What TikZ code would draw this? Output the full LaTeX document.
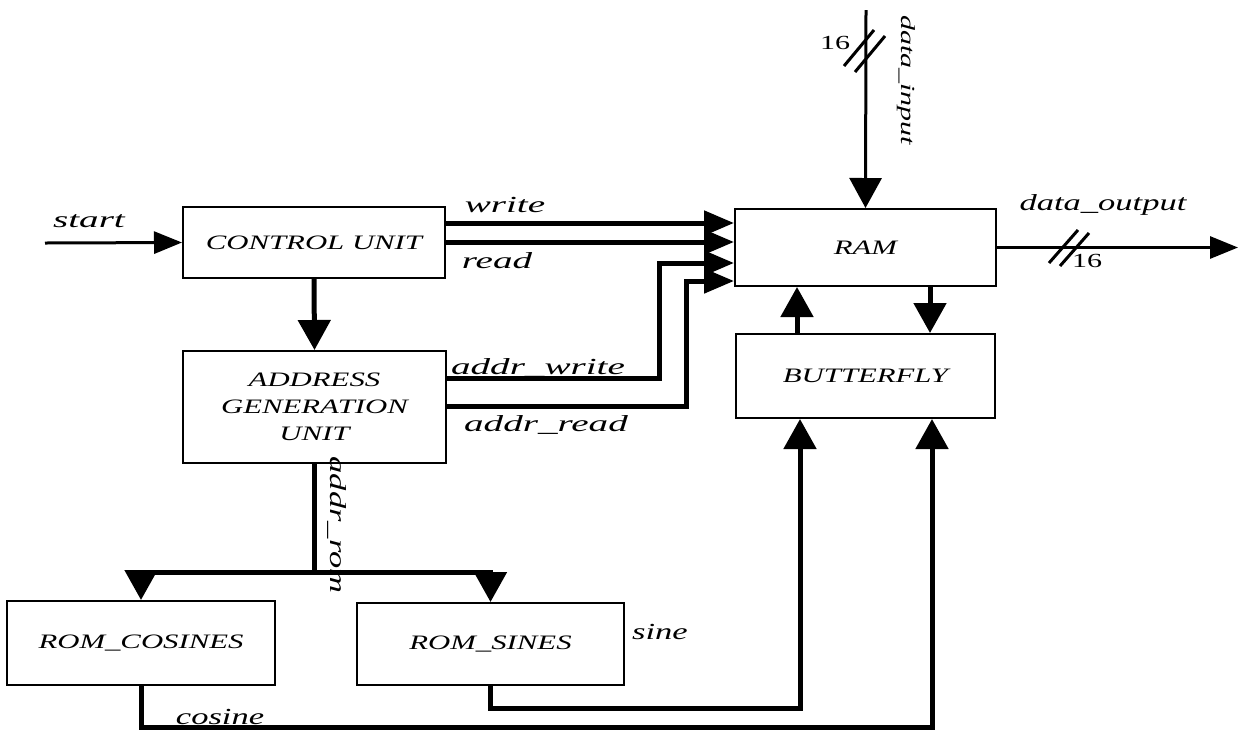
\documentclass[tikz,border=0pt]{standalone}
\usepackage{fontspec}
\setmainfont{Liberation Serif}[FakeStretch=1.5]
\newfontfamily\widefont{Liberation Serif}[FakeStretch=1.7]
\usetikzlibrary{arrows.meta}
\newcommand{\boxfont}{\fontsize{20.5}{27}\selectfont\itshape}
\newcommand{\labfont}{\fontsize{23}{26}\selectfont\itshape}
\newcommand{\wlabfont}{\widefont\fontsize{23}{26}\selectfont\itshape}
\begin{document}
\begin{tikzpicture}[x=1pt,y=-1pt,
  box/.style={draw, line width=2pt, font=\boxfont, align=center, inner sep=2pt},
  bus/.style={line width=5pt},
  sig/.style={line width=3pt},
  lab/.style={font=\labfont, inner sep=1pt},
  wlab/.style={font=\wlabfont, inner sep=1pt},
  num/.style={font=\fontsize{20}{24}\selectfont, inner sep=1pt},
  tipv/.style={-{Triangle[length=30pt,width=32pt]}},
  tipr/.style={-{Triangle[length=30pt,width=24pt]}},
  tips/.style={-{Triangle[length=28pt,width=22pt]}}]
\useasboundingbox (0,0) rectangle (1241,732);
% blocks
\node[box, minimum width=262pt, minimum height=71pt] (cu) at (314,242.5) {CONTROL UNIT};
\node[box, minimum width=263pt, minimum height=112pt] (agu) at (314.5,407) {ADDRESS\\GENERATION\\UNIT};
\node[box, minimum width=261pt, minimum height=77pt] (ram) at (865.5,247.5) {RAM};
\node[box, minimum width=259pt, minimum height=84pt] (bf) at (865.5,376) {BUTTERFLY};
\node[box, minimum width=268pt, minimum height=84pt] (rc) at (141,643) {ROM\_COSINES};
\node[box, minimum width=267pt, minimum height=82pt] (rs) at (490.5,644) {ROM\_SINES};
% helper coordinates
\coordinate (st) at (45,243);
\coordinate (yw) at (0,223);
\coordinate (yr) at (0,242);
\coordinate (yaw) at (0,263);
\coordinate (yar) at (0,281);
\coordinate (aw) at (0,378);
\coordinate (ar) at (0,406);
\coordinate (xw) at (659,0);
\coordinate (xr) at (686,0);
\coordinate (jn) at (314.5,572);
\coordinate (sx) at (800,708);
\coordinate (cx) at (932,727);
\coordinate (xu) at (797,0);
\coordinate (xd) at (930,0);
\coordinate (din) at (866,10);
\coordinate (dout) at (1238,247.5);
% connectors
\draw[sig,tips] (st) -- (cu.west);
\draw[bus,tipr] (cu.east |- yw) -- (ram.west |- yw);
\draw[bus,tipr] (cu.east |- yr) -- (ram.west |- yr);
\draw[bus,tipr] (agu.east |- aw) -| (xw |- yaw) -- (ram.west |- yaw);
\draw[bus,tipr] (agu.east |- ar) -| (xr |- yar) -- (ram.west |- yar);
\draw[bus,tipv] (cu.south) -- (agu.north);
\draw[bus] (agu.south) -- (jn);
\draw[bus,tipv] (jn) -| (rc.north);
\draw[bus,tipv] (jn) -| (rs.north);
\draw[bus,tipv] (rs.south) |- (sx) -- (sx |- bf.south);
\draw[bus,tipv] (rc.south) |- (cx) -- (cx |- bf.south);
\draw[bus,tipv] (xu |- bf.north) -- (xu |- ram.south);
\draw[bus,tipv] (xd |- ram.south) -- (xd |- bf.north);
\draw[sig,tipv] (din) -- (ram.north);
\draw[sig,tips] (ram.east) -- (dout);
% bus width marks
\draw[sig] (844,66) -- (874,30);
\draw[sig] (855,72) -- (885,36);
\draw[sig] (1049,263) -- (1078,230);
\draw[sig] (1060,266) -- (1089,233);
% labels
\node[wlab] (lstart) at (89,221) {start};
\node[wlab] (lwrite) at (505,205) {write};
\node[wlab] (lread) at (497,261) {read};
\node[wlab] (law) at (538,368) {addr\_write};
\node[wlab] (lar) at (546,425) {addr\_read};
\node[lab, rotate=-90] (lrom) at (337,525) {addr\_rom};
\node[lab] (lsine) at (660,632) {sine};
\node[lab] (lcos) at (220,717) {cosine};
\node[lab, font=\fontsize{20}{24}\selectfont\itshape, rotate=-90] (ldin) at (906,80) {data\_input};
\node[num] (l16a) at (835,43) {16};
\node[lab] (ldout) at (1103,205) {data\_output};
\node[num] (l16b) at (1087,261) {16};
\end{tikzpicture}
\end{document}
